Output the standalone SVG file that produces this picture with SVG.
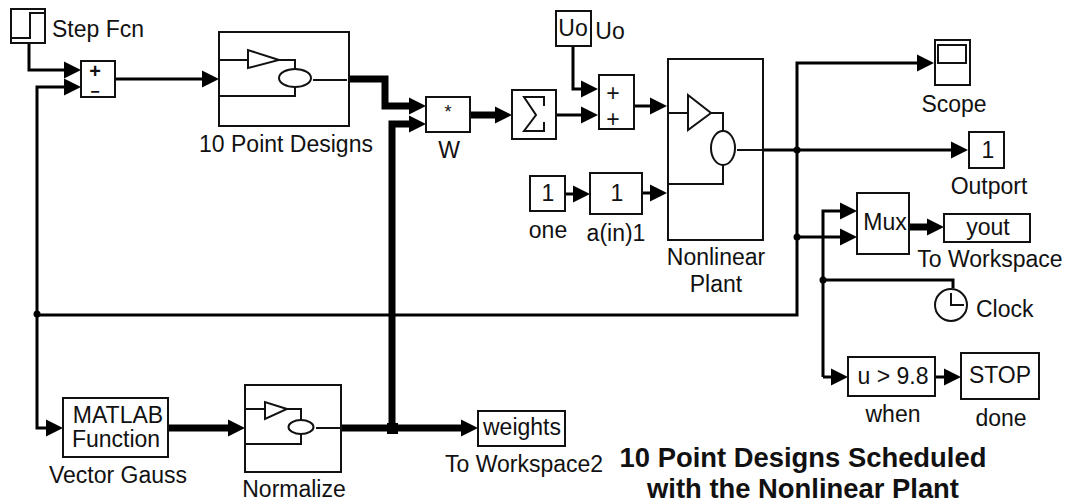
<svg xmlns="http://www.w3.org/2000/svg" width="1067" height="504" viewBox="0 0 1067 504">
<style>
text{font-family:"Liberation Sans",Arial,sans-serif;font-size:23px;fill:#111;text-anchor:middle}
.s{text-anchor:start}
.t{font-weight:bold;font-size:27.4px}
.b{fill:#fff;stroke:#111;stroke-width:2}
.i{fill:none;stroke:#111;stroke-width:2}
.c{fill:none;stroke:#000;stroke-width:3;stroke-linejoin:miter}
.a{marker-end:url(#h)}
.k{stroke-width:7}
.d{fill:#000}
</style>
<defs>
<marker id="h" markerUnits="userSpaceOnUse" markerWidth="18" markerHeight="18" refX="4" refY="9" orient="auto" viewBox="0 0 18 18"><path d="M0 0.5L17 9L0 17.500Z" fill="#000"/></marker>
</defs>
<rect width="1067" height="504" fill="#fff"/>
<g id="connectors">
<path class="c a" d="M29 43V70H68"/>
<path class="c a" d="M37 315V87H68"/>
<path class="c a" d="M115 79H206"/>
<path class="c k a" d="M349 79H385V106H413"/>
<path class="c k a" d="M392 431V124H413"/>
<path class="c k a" d="M470 115H499"/>
<path class="c a" d="M556 115H585"/>
<path class="c a" d="M573 46V89H585"/>
<path class="c a" d="M634 106H654"/>
<path class="c a" d="M565 194H577"/>
<path class="c a" d="M642 193H654"/>
<path class="c a" d="M763 150H955"/>
<path class="c a" d="M37 315H797V63H921"/>
<path class="c a" d="M797 237H844"/>
<path class="c k a" d="M909 227H931"/>
<path class="c a" d="M823 377V211H844"/>
<path class="c a" d="M823 377H835"/>
<path class="c" d="M823 280H953V288"/>
<path class="c a" d="M935 377H948"/>
<path class="c a" d="M37 315V428H50"/>
<path class="c k a" d="M168 428H232"/>
<path class="c k a" d="M341 428H465"/>
<circle class="d" cx="37" cy="314" r="3.500"/>
<circle class="d" cx="797" cy="150" r="3.500"/>
<circle class="d" cx="797" cy="237" r="3.500"/>
<circle class="d" cx="823" cy="280" r="3.500"/>
<rect class="d" x="387" y="423" width="11" height="11"/>
</g>
<g id="step-fcn"><rect class="b" x="11" y="9" width="34" height="34"/><path class="i" d="M11 38H30V13H45"/><text class="s" x="52" y="37">Step Fcn</text></g>
<g id="sum1"><rect class="b" x="81" y="61" width="34" height="36"/><text x="95" y="78" style="font-weight:bold;font-size:20px">+</text><text x="95" y="97" style="font-weight:bold;font-size:16px">−</text></g>
<g id="point-designs"><rect class="b" x="219" y="32" width="130" height="94"/><path class="i" d="M219 60H248M279 60H295V70M295 87V96H219M313 80H347"/><path class="i" d="M248 50V68L279 60Z"/><ellipse class="i" cx="295" cy="78" rx="16" ry="9"/><text x="286" y="152">10 Point Designs</text></g>
<g id="w"><rect class="b" x="426" y="97" width="44" height="35"/><text x="448" y="118" style="font-size:18px">*</text><text x="449" y="158">W</text></g>
<g id="sigma"><rect class="b" x="512" y="90" width="44" height="49"/><path class="i" d="M544 106V97H524L536 115L524 131H544V122"/></g>
<g id="uo"><rect class="b" x="556" y="11" width="35" height="35"/><text x="573" y="36">Uo</text><text x="610" y="39">Uo</text></g>
<g id="sum2"><rect class="b" x="599" y="75" width="35" height="54"/><text x="613" y="101">+</text><text x="613" y="127">+</text></g>
<g id="plant"><rect class="b" x="668" y="59" width="95" height="181"/><path class="i" d="M668 113H688M711 113H723V131M723 165V184H668M737 150H763"/><path class="i" d="M688 95V130L711 113Z"/><ellipse class="i" cx="723" cy="148" rx="12" ry="17"/><text x="716" y="265">Nonlinear</text><text x="716" y="292">Plant</text></g>
<g id="one"><rect class="b" x="530" y="176" width="35" height="35"/><text x="548" y="201">1</text><text x="548" y="238">one</text></g>
<g id="a-in"><rect class="b" x="590" y="173" width="52" height="41"/><text x="617" y="201">1</text><text x="616" y="241">a(in)1</text></g>
<g id="scope"><rect class="b" x="935" y="40" width="35" height="45"/><rect class="i" x="938" y="45" width="28" height="18"/><text x="954" y="112">Scope</text></g>
<g id="outport"><rect class="b" x="969" y="132" width="35" height="36"/><text x="988" y="158">1</text><text x="989" y="194">Outport</text></g>
<g id="mux"><rect class="b" x="857" y="193" width="52" height="61"/><text x="885" y="230">Mux</text></g>
<g id="yout"><rect class="b" x="944" y="214" width="86" height="28"/><text x="988" y="235">yout</text><text x="990" y="267">To Workspace</text></g>
<g id="clock"><circle class="i" cx="951" cy="305" r="16"/><path class="i" d="M951 293V305H964"/><text class="s" x="976" y="317">Clock</text></g>
<g id="when"><rect class="b" x="848" y="357" width="87" height="39"/><text x="893" y="384">u &gt; 9.8</text><text x="893" y="422">when</text></g>
<g id="done"><rect class="b" x="961" y="353" width="78" height="46"/><text x="1000" y="383">STOP</text><text x="1001" y="426">done</text></g>
<g id="vector-gauss"><rect class="b" x="63" y="398" width="105" height="59"/><text x="118" y="423">MATLAB</text><text x="116" y="447">Function</text><text x="118" y="483">Vector Gauss</text></g>
<g id="normalize"><rect class="b" x="245" y="385" width="96" height="87"/><path class="i" d="M245 409H265M287 409H301V420M301 434V444H245M316 428H340"/><path class="i" d="M265 402V419L287 409Z"/><ellipse class="i" cx="301" cy="427" rx="12.500" ry="7"/><text x="294" y="497">Normalize</text></g>
<g id="weights"><rect class="b" x="478" y="411" width="87" height="35"/><text x="522" y="435">weights</text><text x="524" y="472">To Workspace2</text></g>
<g id="title"><text class="t" x="803" y="467">10 Point Designs Scheduled</text><text class="t" x="803" y="498">with the Nonlinear Plant</text></g>
</svg>
